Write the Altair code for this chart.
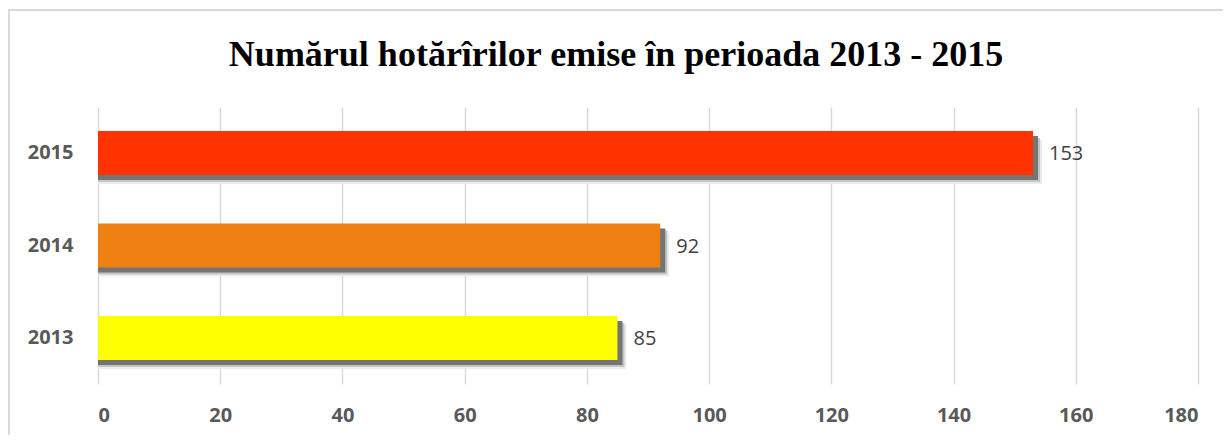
import altair as alt
import pandas as pd

years = ["2013", "2014", "2015"]
values = [85, 92, 153]
colors = ["#FFFF00", "#EF8113", "#FF3300"]
x_ticks = [0, 20, 40, 60, 80, 100, 120, 140, 160, 180]
title_text = "Numărul hotărîrilor emise în perioada 2013 - 2015"

df = pd.DataFrame({"an": years, "valoare": values, "culoare": colors})

W, H = 1100, 277
order = ["2015", "2014", "2013"]

y_enc = alt.Y("an:N", sort=order, title=None,
              scale=alt.Scale(paddingInner=0.523, paddingOuter=0.26),
              axis=alt.Axis(domain=False, ticks=False, labelPadding=25,
                            labelFont="Open Sans", labelFontWeight="bold",
                            labelFontSize=20, labelColor="#595959"))
x_enc = alt.X("valoare:Q", title=None, stack=None,
              scale=alt.Scale(domain=[0, 180], nice=False, zero=True),
              axis=alt.Axis(values=x_ticks, domain=False, ticks=False,
                            grid=True, gridColor="#d9d9d9", gridWidth=1.5,
                            labelPadding=21, labelFont="Open Sans",
                            labelFontWeight="bold", labelFontSize=20,
                            labelColor="#595959"))

base = alt.Chart(df)

frame = base.mark_rect(fill=None, stroke="#d9d9d9", strokeWidth=1.5).encode(
    x=alt.value(-89), x2=alt.value(W + 60), y=alt.value(-97), y2=alt.value(H + 80)
)

shadow3 = base.mark_bar(color="#ececec", xOffset=9, yOffset=9).encode(x=x_enc, y=y_enc)
shadow2 = base.mark_bar(color="#c4c4c4", xOffset=7, yOffset=7).encode(x=x_enc, y=y_enc)
shadow1 = base.mark_bar(color="#747474", xOffset=5, yOffset=5).encode(x=x_enc, y=y_enc)
bars = base.mark_bar().encode(
    x=x_enc, y=y_enc, color=alt.Color("culoare:N", scale=None)
)
labels = base.mark_text(align="left", baseline="middle", dx=16, dy=1,
                        font="Open Sans", fontSize=20, color="#404040").encode(
    x="valoare:Q", y=alt.Y("an:N", sort=order), text="valoare:Q"
)

chart = alt.layer(frame, shadow3, shadow2, shadow1, bars, labels).properties(
    width=W, height=H,
    title=alt.TitleParams(title_text, font="Liberation Serif", fontSize=36,
                          fontWeight="bold", color="#000000", anchor="middle",
                          baseline="alphabetic", offset=-93, dx=-32),
    autosize=alt.AutoSizeParams(type="none"),
    padding={"left": 90, "top": 99, "right": 25, "bottom": 51},
).configure_view(stroke=None)

chart.save("out.html", embed_options={"renderer": "svg", "actions": False})
